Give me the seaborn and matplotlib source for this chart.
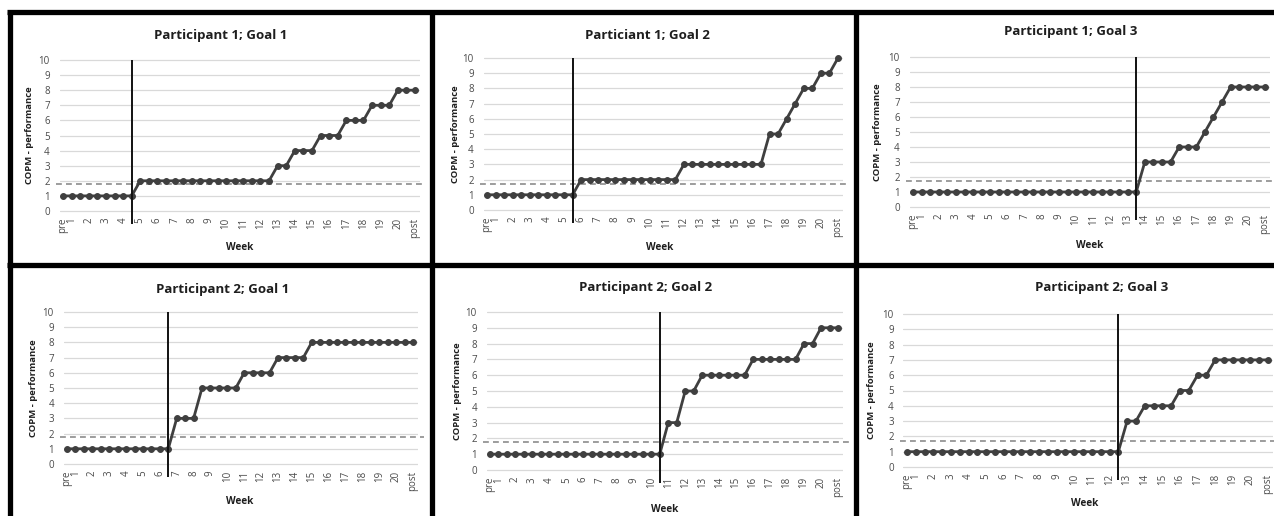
import matplotlib
matplotlib.use("Agg")
import matplotlib.pyplot as plt
from matplotlib.lines import Line2D
import seaborn as sns

W, H = 1274, 516

titles = ["Participant 1; Goal 1", "Particiant 1; Goal 2", "Participant 1; Goal 3",
          "Participant 2; Goal 1", "Participant 2; Goal 2", "Participant 2; Goal 3"]

# COPM performance, one value per measurement (pre, 2 per week, post)
p1_goal1 = [1, 1, 1, 1, 1, 1, 1, 1, 1,
            2, 2, 2, 2, 2, 2, 2, 2, 2, 2, 2, 2, 2, 2, 2, 2,
            3, 3, 4, 4, 4, 5, 5, 5, 6, 6, 6, 7, 7, 7, 8, 8, 8]
p1_goal2 = [1, 1, 1, 1, 1, 1, 1, 1, 1, 1, 1,
            2, 2, 2, 2, 2, 2, 2, 2, 2, 2, 2, 2,
            3, 3, 3, 3, 3, 3, 3, 3, 3, 3,
            5, 5, 6, 7, 8, 8, 9, 9, 10]
p1_goal3 = [1, 1, 1, 1, 1, 1, 1, 1, 1, 1, 1, 1, 1, 1, 1, 1, 1, 1, 1, 1, 1, 1, 1, 1, 1, 1, 1,
            3, 3, 3, 3, 4, 4, 4, 5, 6, 7, 8, 8, 8, 8, 8]
p2_goal1 = [1, 1, 1, 1, 1, 1, 1, 1, 1, 1, 1, 1, 1,
            3, 3, 3, 5, 5, 5, 5, 5, 6, 6, 6, 6, 7, 7, 7, 7,
            8, 8, 8, 8, 8, 8, 8, 8, 8, 8, 8, 8, 8]
p2_goal2 = [1, 1, 1, 1, 1, 1, 1, 1, 1, 1, 1, 1, 1, 1, 1, 1, 1, 1, 1, 1, 1,
            3, 3, 5, 5, 6, 6, 6, 6, 6, 6, 7, 7, 7, 7, 7, 7, 8, 8, 9, 9, 9]
p2_goal3 = [1, 1, 1, 1, 1, 1, 1, 1, 1, 1, 1, 1, 1, 1, 1, 1, 1, 1, 1, 1, 1, 1, 1, 1, 1,
            3, 3, 4, 4, 4, 4, 5, 5, 6, 6, 7, 7, 7, 7, 7, 7, 7]
series = [p1_goal1, p1_goal2, p1_goal3, p2_goal1, p2_goal2, p2_goal3]

# index of the measurement where the intervention phase starts
phase_change = [8, 10, 26, 12, 20, 24]
# dashed reference level
cutoff = [1.78, 1.73, 1.73, 1.78, 1.75, 1.71]

week_labels = ["pre", "1", "2", "3", "4", "5", "6", "7", "8", "9", "10", "11", "12",
               "13", "14", "15", "16", "17", "18", "19", "20", "post"]
yticks = [0, 1, 2, 3, 4, 5, 6, 7, 8, 9, 10]

# layout in pixels: first point x, last point x, y of 10, y of 0
boxes = [(63, 415, 60, 211), (487, 838, 58, 210), (913, 1265, 57, 207),
         (67, 413, 312, 464), (490, 838, 312, 470), (907, 1268, 314, 467)]
title_pos = [(221, 35), (647, 35), (1071, 32), (223, 290), (646, 287), (1102, 288)]
ylabel_x = [30, 455, 877, 33, 457, 872]
xlabel_pos = [(240, 248), (660, 247), (1090, 245), (240, 502), (665, 509), (1085, 504)]

sns.set_style("white")
plt.rcParams["font.family"] = ["Open Sans", "DejaVu Sans"]

fig = plt.figure(figsize=(W / 100, H / 100), dpi=100)
fig.patch.set_facecolor("white")

LINE = "#3f3f3f"
TXT = "#4a4a4a"
n = len(p1_goal1)
tick_pos = [0] + [2 * k - 1 for k in range(1, 21)] + [n - 1]

for i, vals in enumerate(series):
    x0, x1, y10, y0 = boxes[i]
    sx = (x1 - x0) / (n - 1)
    sy = (y0 - y10) / 10
    left = x0 - 0.4 * sx
    right = x1 + 0.6 * sx
    top = y10 - 0.1 * sy
    bot = y0 + 0.35 * sy
    ax = fig.add_axes([left / W, 1 - bot / H, (right - left) / W, (bot - top) / H])
    ax.set_xlim(-0.4, n - 0.4)
    ax.set_ylim(-0.35, 10.1)

    for yt in yticks:
        ax.axhline(yt, color="#d9d9d9", lw=0.9, zorder=0)

    sns.lineplot(x=list(range(n)), y=vals, ax=ax, color=LINE, lw=2.0,
                 marker="o", markersize=4.2, markeredgecolor=LINE,
                 markerfacecolor=LINE, zorder=3, clip_on=False)

    ax.plot([-0.8, n + 0.3], [cutoff[i], cutoff[i]], color="#8c8c8c", lw=1.2,
            ls=(0, (3.5, 2.5)), zorder=2, clip_on=False)
    ax.vlines(phase_change[i], -0.85, 10, color="#111111", lw=1.4, zorder=4,
              clip_on=False)

    for s in ax.spines.values():
        s.set_visible(False)
    ax.set_yticks(yticks)
    ax.set_yticklabels([str(v) for v in yticks], fontsize=7, color=TXT)
    ax.set_xticks(tick_pos)
    ax.set_xticklabels(week_labels, rotation=90, fontsize=7, color=TXT)
    ax.tick_params(axis="both", length=0, pad=1)
    ax.tick_params(axis="y", pad=7)

    tx, ty = title_pos[i]
    fig.text(tx / W, 1 - ty / H, titles[i], ha="center", va="center",
             fontsize=9.5, fontweight="bold", color="#1e1e1e")
    fig.text(ylabel_x[i] / W, 1 - ((y10 + y0) / 2) / H, "COPM - performance",
             rotation=90, ha="center", va="center", fontsize=6.8,
             fontweight="bold", color="#1e1e1e")
    lx, ly = xlabel_pos[i]
    fig.text(lx / W, 1 - ly / H, "Week", ha="center", va="center",
             fontsize=7.2, fontweight="bold", color="#1e1e1e")

# thick black frames around the panels
frame = dict(color="black", lw=3.8, solid_capstyle="butt")
for (xa, ya, xb, yb) in [(7, 12, W, 12), (7, 265, W, 265),
                         (10, 12, 10, H), (432, 12, 432, H), (856, 12, 856, H)]:
    fig.add_artist(Line2D([xa / W, xb / W], [1 - ya / H, 1 - yb / H], **frame))

fig.savefig("out.png", dpi=100, facecolor="white")
